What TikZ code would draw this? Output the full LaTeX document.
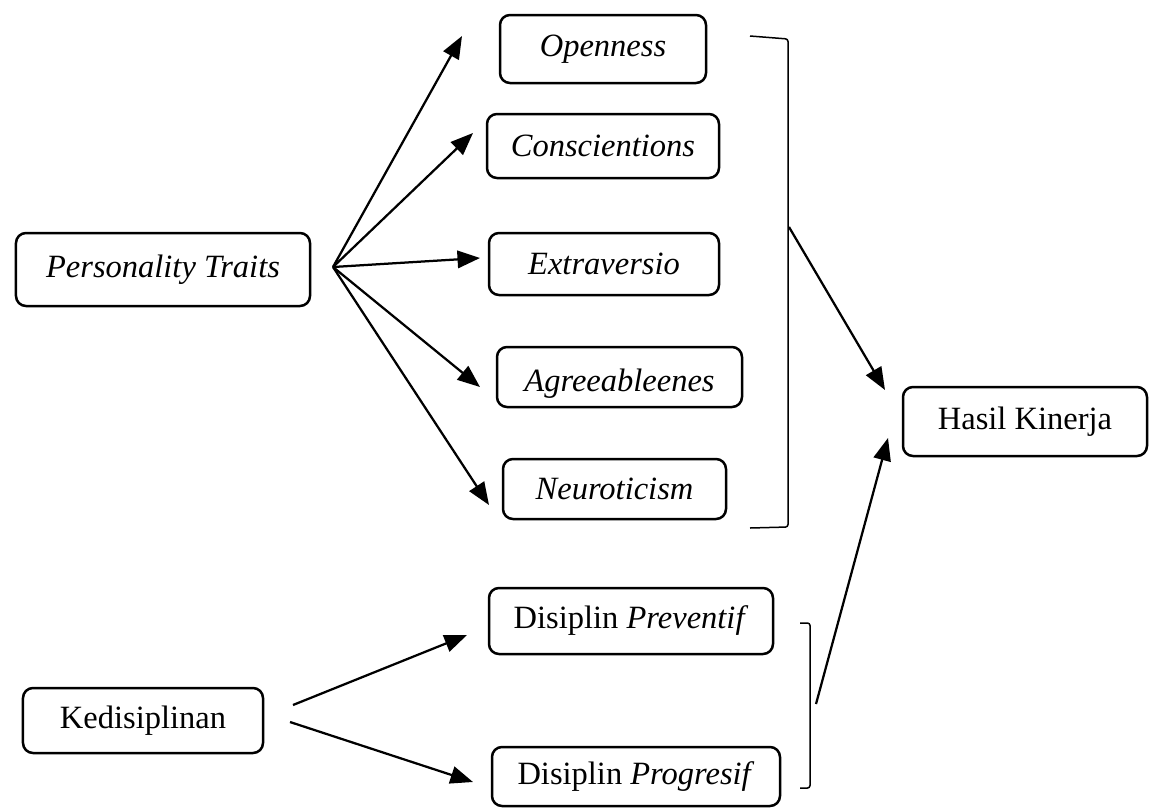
\documentclass[tikz,border=0pt]{standalone}
\usepackage{fontspec}
\setmainfont{Liberation Serif}
\usetikzlibrary{arrows.meta}
\begin{document}
\begin{tikzpicture}[x=0.4pt, y=-0.4pt,
    box/.style={draw, line width=1pt, rounded corners=4pt, inner sep=0pt, font=\fontsize{13}{15}\selectfont},
    arr/.style={line width=0.9pt, -{Triangle[length=9pt,width=7pt]}},
    brace/.style={line width=0.6pt, rounded corners=1pt}]
    \useasboundingbox (0,0) rectangle (1153,807);

    % Personality traits and the five factors
    \node[box, minimum width=117.6pt, minimum height=29.2pt] (traits) at (163,269.5) {\textit{Personality Traits}};
    \node[box, minimum width=82.4pt, minimum height=27.2pt] (open) at (603,49) {\textit{Openness}};
    \node[box, minimum width=92.8pt, minimum height=25.6pt] (consc) at (603,146) {\textit{Conscientions}};
    \node[box, minimum width=92pt, minimum height=24.8pt] (extra) at (604,264) {\textit{Extraversio}};
    \node[box, minimum width=98pt, minimum height=24pt, text height=11.5pt, text depth=0pt] (agree) at (619.5,377) {\textit{Agreeableenes}};
    \node[box, minimum width=89.2pt, minimum height=24pt] (neuro) at (614.5,489) {\textit{Neuroticism}};

    \coordinate (fan) at (333,267);
    \coordinate (to-open) at (462,36);
    \coordinate (to-consc) at (473,133);
    \coordinate (to-extra) at (480,258);
    \coordinate (to-agree) at (480,387);
    \coordinate (to-neuro) at (489,505);
    \draw[arr] (fan) -- (to-open);
    \draw[arr] (fan) -- (to-consc);
    \draw[arr] (fan) -- (to-extra);
    \draw[arr] (fan) -- (to-agree);
    \draw[arr] (fan) -- (to-neuro);

    % Bracket over the five factors
    \draw[brace] (750,36) -- (788,39) -- (788,527) -- (750,528);

    % Outcome
    \node[box, minimum width=97.6pt, minimum height=27.6pt] (hasil) at (1025,421.5) {Hasil Kinerja};
    \coordinate (from-traits) at (789,227);
    \coordinate (tip-top) at (885,390);
    \draw[arr] (from-traits) -- (tip-top);

    % Discipline
    \node[box, minimum width=96pt, minimum height=26pt] (disc) at (143,720.5) {Kedisiplinan};
    \node[box, minimum width=113.6pt, minimum height=26.4pt] (prev) at (631,621) {Disiplin \textit{Preventif}};
    \node[box, minimum width=115.2pt, minimum height=23.6pt] (prog) at (636,776.5) {Disiplin \textit{Progresif}};

    \coordinate (disc-up) at (293,705);
    \coordinate (disc-down) at (290,722);
    \coordinate (to-prev) at (467,635);
    \coordinate (to-prog) at (473,782);
    \draw[arr] (disc-up) -- (to-prev);
    \draw[arr] (disc-down) -- (to-prog);

    % Bracket over the two kinds of discipline
    \draw[brace] (800,623) -- (810,623) -- (810,788) -- (800,788);
    \coordinate (from-disc) at (816,704);
    \coordinate (tip-bottom) at (888,438);
    \draw[arr] (from-disc) -- (tip-bottom);
\end{tikzpicture}
\end{document}
